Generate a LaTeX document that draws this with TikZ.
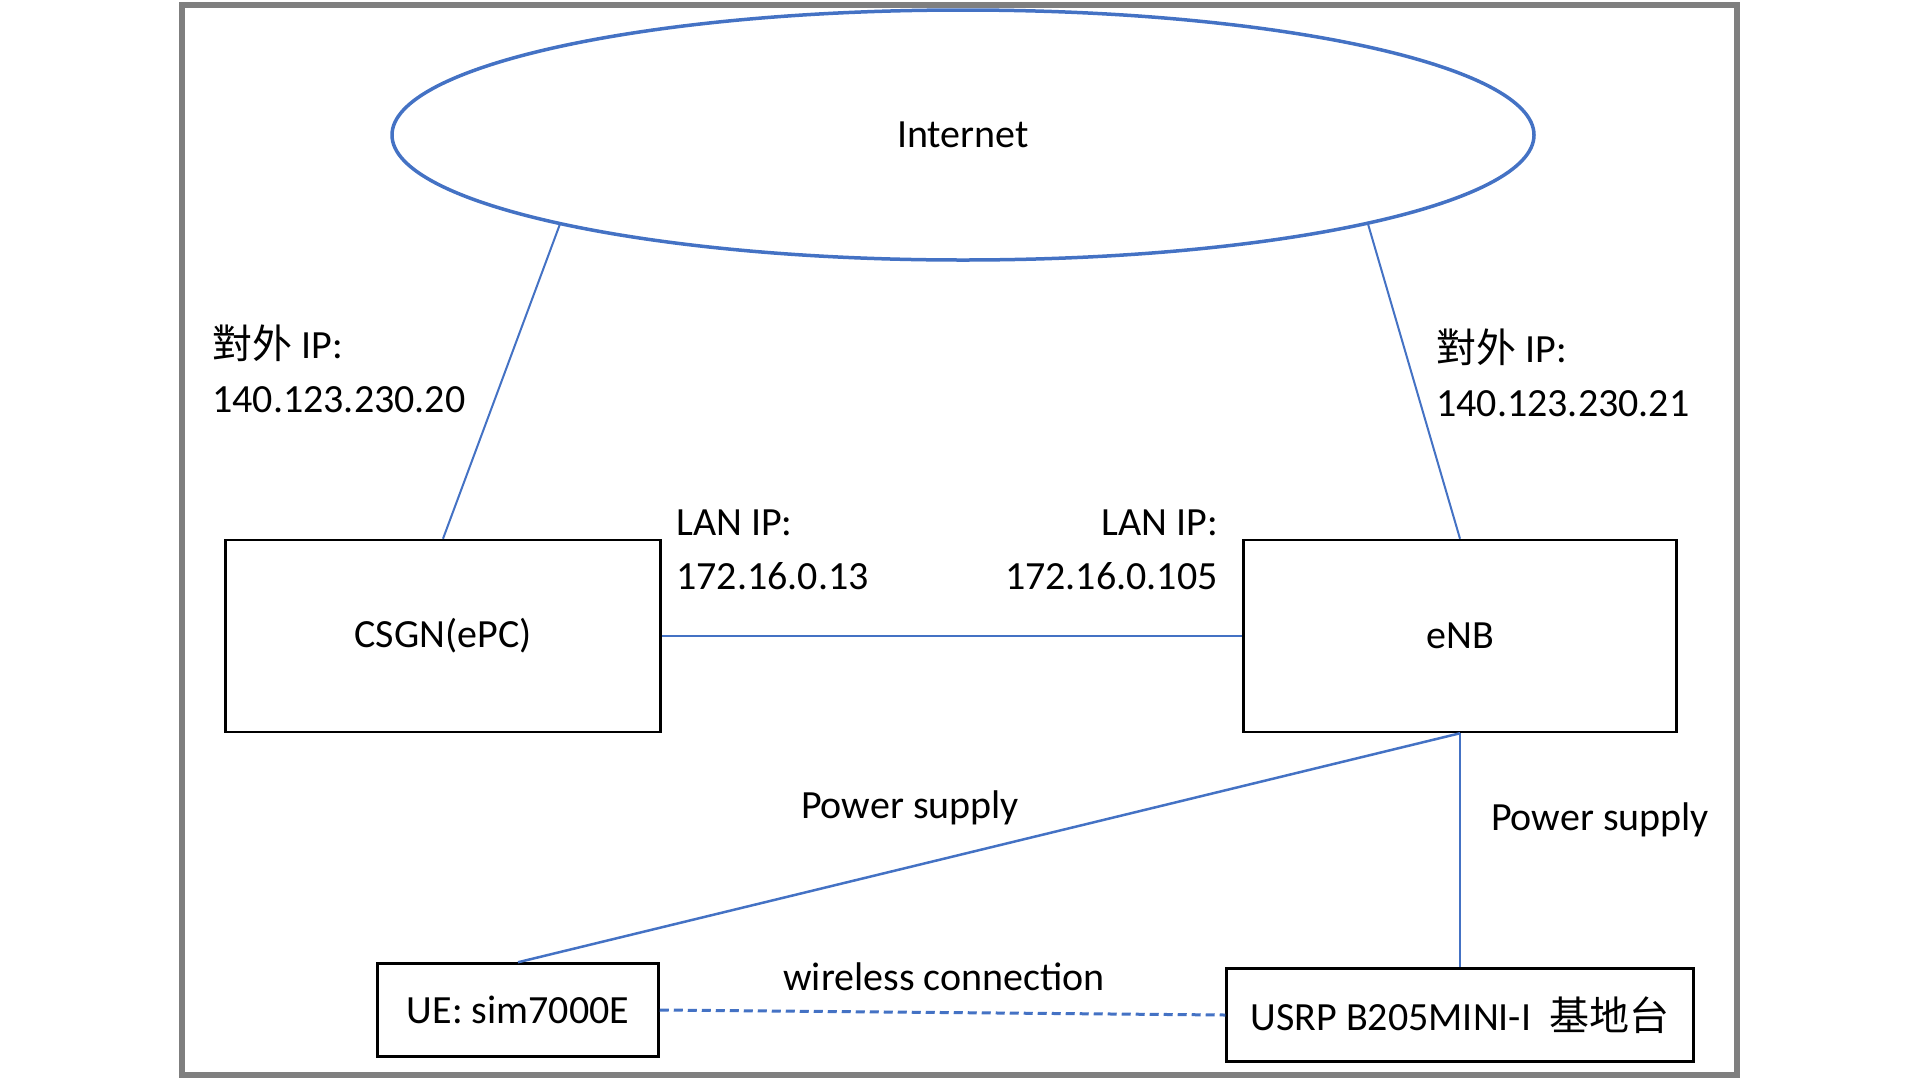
\documentclass[tikz,border=0pt]{standalone}
\usepackage{fontspec}
\setmainfont{Carlito}
\newfontfamily\cjk{Noto Sans CJK TC}
\usetikzlibrary{positioning,shapes.geometric}
\definecolor{linkblue}{HTML}{4472C4}
\definecolor{framegray}{HTML}{7F7F7F}

\begin{document}
\begin{tikzpicture}[
  x=1pt, y=-1pt,
  font=\fontsize{40}{54}\selectfont,
  box/.style={draw, line width=2.5pt, inner sep=0pt},
  cloud/.style={ellipse, draw=linkblue, line width=3.5pt, inner sep=0pt,
    minimum width=1142pt, minimum height=250pt},
  link/.style={draw=linkblue, line width=2pt},
  radio/.style={draw=linkblue, line width=3pt, dash pattern=on 9pt off 5pt},
  lbl/.style={inner sep=0pt}
]
\useasboundingbox (0,0) rectangle (1920,1080);
\draw[framegray, line width=6pt] (182,5) rectangle (1737,1075);

\node[cloud] (inet) at (963,135) {Internet};
% where the uplinks meet the ellipse
\coordinate (inetl) at (560,224);
\coordinate (inetr) at (1368,224);

\node[box, minimum width=435pt, minimum height=192pt] (csgn) at (443,636) {CSGN(ePC)};
\node[box, minimum width=433pt, minimum height=192pt] (enb) at (1460,636) {eNB};
\node[box, minimum width=281pt, minimum height=93pt] (ue) at (518,1010) {UE: sim7000E};
\node[box, minimum width=467pt, minimum height=93pt] (usrp) at (1460,1015) {USRP B205MINI-I\ \ {\cjk 基地台}};

% address labels
\node[lbl, align=left, anchor=west] (wanl) at (212,369) {{\cjk 對外} IP:\\140.123.230.20};
\node[lbl, align=left, anchor=west] (wanr) at (1436,373) {{\cjk 對外} IP:\\140.123.230.21};
\node[lbl, align=left, anchor=west] (lanl) at (676,550) {LAN IP:\\172.16.0.13};
\node[lbl, align=right, anchor=east] (lanr) at (1218,550) {LAN IP:\\172.16.0.105};

\node[lbl] (pwrue) at (910,808) {Power supply};
\node[lbl] (pwrusrp) at (1600,820) {Power supply};
\node[lbl] (wless) at (944,977) {wireless connection};

\draw[link] (inetl) -- (csgn.north);
\draw[link] (inetr) -- (enb.north);
\draw[link] (csgn.east) -- (enb.west);
\draw[link, line width=2.5pt] (enb.south) -- (ue.north);
\draw[link] (enb.south) -- (usrp.north);
\draw[radio] (ue.east) -- (usrp.west);

\end{tikzpicture}
\end{document}
